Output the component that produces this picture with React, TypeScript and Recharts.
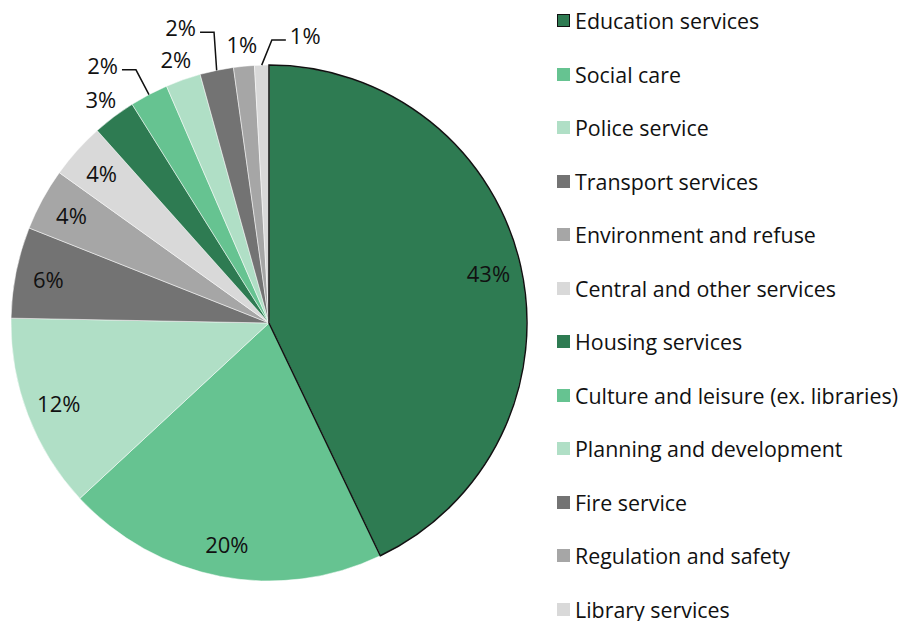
import React from 'react';
import { PieChart, Pie, Cell, Legend } from 'recharts';

// spending categories, clockwise from 12 o'clock
const categories = [
  'Education services',
  'Social care',
  'Police service',
  'Transport services',
  'Environment and refuse',
  'Central and other services',
  'Housing services',
  'Culture and leisure (ex. libraries)',
  'Planning and development',
  'Fire service',
  'Regulation and safety',
  'Library services',
];

// share of spending, %
const shares = [42.9, 20.2, 12.2, 5.7, 3.9, 3.5, 2.7, 2.4, 2.2, 2.1, 1.3, 0.9];

const DARK_GREEN = '#2e7b52';
const MID_GREEN = '#66c391';
const LIGHT_GREEN = '#b0dfc6';
const DARK_GREY = '#737373';
const MID_GREY = '#a6a6a6';
const LIGHT_GREY = '#d9d9d9';

const colors = [
  DARK_GREEN, MID_GREEN, LIGHT_GREEN, DARK_GREY, MID_GREY, LIGHT_GREY,
  DARK_GREEN, MID_GREEN, LIGHT_GREEN, DARK_GREY, MID_GREY, LIGHT_GREY,
];

const chartData = categories.map((name, i) => ({ name, value: shares[i] }));

const FONT = '"Open Sans", sans-serif';
const CX = 261;
const CY = 315;
const R = 258;
const RADIAN = Math.PI / 180;

// how each slice's label is placed
type Placement =
  | { kind: 'in' }
  | { kind: 'out' }
  | { kind: 'leader'; rise: number; tilt: number; side: number };

const placements: Placement[] = [
  { kind: 'in' }, { kind: 'in' }, { kind: 'in' }, { kind: 'in' }, { kind: 'in' }, { kind: 'in' },
  { kind: 'out' },
  { kind: 'leader', rise: 28, tilt: 0, side: -1 },
  { kind: 'out' },
  { kind: 'leader', rise: 38, tilt: -1, side: -1 },
  { kind: 'out' },
  { kind: 'leader', rise: 25, tilt: -2.2, side: 1 },
];

const polar = (angle: number, r: number) => ({
  x: CX + r * Math.cos(-angle * RADIAN),
  y: CY + r * Math.sin(-angle * RADIAN),
});

const renderLabel = (props: any) => {
  const { midAngle, index, value } = props;
  const p = placements[index];
  const text = `${Math.round(value)}%`;
  const common = { fill: '#111', fontSize: 22, fontFamily: FONT };
  if (p.kind === 'in' || p.kind === 'out') {
    const pt = polar(midAngle, p.kind === 'in' ? 225 : 280);
    return (
      <text x={pt.x} y={pt.y} textAnchor="middle" dominantBaseline="central" {...common}>
        {text}
      </text>
    );
  }
  const edge = polar(midAngle, R);
  const elbow = polar(midAngle + p.tilt, R + p.rise);
  const endX = elbow.x + p.side * 14;
  return (
    <g>
      <polyline
        points={`${edge.x},${edge.y} ${elbow.x},${elbow.y} ${endX},${elbow.y}`}
        fill="none"
        stroke="#111"
        strokeWidth={1.5}
      />
      <text
        x={endX + p.side * 4}
        y={elbow.y - 5}
        textAnchor={p.side < 0 ? 'end' : 'start'}
        dominantBaseline="central"
        {...common}
      >
        {text}
      </text>
    </g>
  );
};

const renderLegend = () => (
  <div style={{ fontFamily: FONT, fontSize: 21.4, color: '#111' }}>
    {categories.map((name, i) => (
      <div key={name} style={{ height: 53.5, display: 'flex', alignItems: 'center', whiteSpace: 'nowrap' }}>
        <span
          style={{
            display: 'inline-block',
            width: 13,
            height: 13,
            boxSizing: 'border-box',
            background: colors[i],
            border: i === 0 ? '1.5px solid #111' : 'none',
            marginRight: 5,
          }}
        />
        <span>{name}</span>
      </div>
    ))}
  </div>
);

export default function App() {
  return (
    <PieChart width={902} height={613} margin={{ top: 0, right: 0, bottom: 0, left: 0 }}>
      <Pie
        data={chartData}
        dataKey="value"
        nameKey="name"
        cx={CX}
        cy={CY}
        outerRadius={R}
        startAngle={90}
        endAngle={-270}
        stroke="#ffffff"
        strokeWidth={0.5}
        label={renderLabel}
        labelLine={false}
        isAnimationActive={false}
      >
        {chartData.map((d, i) => (
          <Cell key={d.name} fill={colors[i]} />
        ))}
      </Pie>
      {/* outline for the education slice, drawn on top */}
      <Pie
        data={chartData}
        dataKey="value"
        cx={CX}
        cy={CY}
        outerRadius={R}
        startAngle={90}
        endAngle={-270}
        isAnimationActive={false}
        legendType="none"
      >
        {chartData.map((d, i) => (
          <Cell
            key={d.name}
            fill="none"
            stroke={i === 0 ? '#111' : 'none'}
            strokeWidth={i === 0 ? 1.5 : 0}
          />
        ))}
      </Pie>
      <Legend
        content={renderLegend}
        wrapperStyle={{ position: 'absolute', top: -14, left: 549, width: 360 }}
      />
    </PieChart>
  );
}
